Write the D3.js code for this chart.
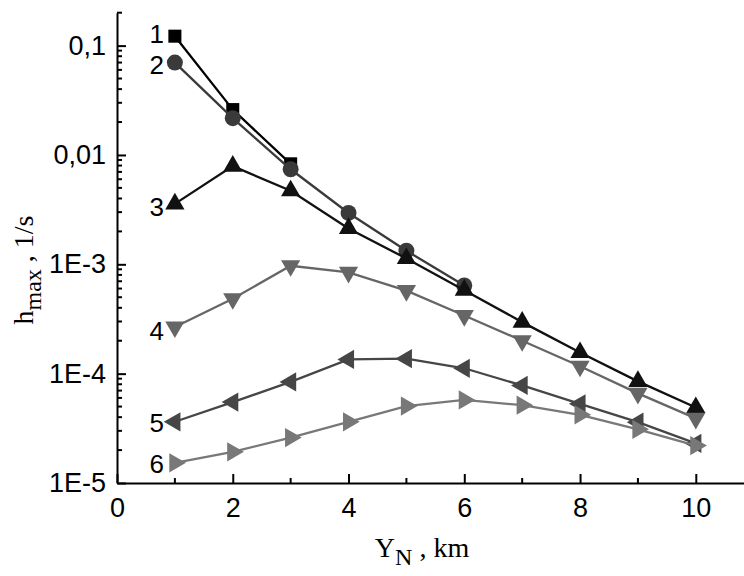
<!DOCTYPE html>
<html>
<head>
<meta charset="utf-8">
<script src="https://cdn.jsdelivr.net/npm/d3@7"></script>
<style>
  body { margin: 0; background: #fff; }
  svg { display: block; }
  .axis text { font-family: "Liberation Sans", Arial, sans-serif; font-size: 27px; fill: #000; }
  .axis path, .axis line { stroke: #000; stroke-width: 2px; }
  .title { font-family: "Liberation Serif", "Times New Roman", serif; font-size: 28px; fill: #000; }
  .num { font-family: "Liberation Sans", Arial, sans-serif; font-size: 26px; fill: #000; }
</style>
</head>
<body>
<div id="chart"></div>
<script>
// data
var xValues = [1, 2, 3, 4, 5, 6, 7, 8, 9, 10];
var series1 = [0.122, 0.026, 0.0083];
var series2 = [0.070, 0.0217, 0.0074, 0.00295, 0.00133, 0.00064];
var series3 = [0.00357, 0.0079, 0.0047, 0.00213, 0.00113, 0.00058, 0.000296, 0.000156, 0.000085, 0.000049];
var series4 = [2.67e-4, 4.84e-4, 9.7e-4, 8.45e-4, 5.75e-4, 3.4e-4, 2.0e-4, 1.17e-4, 6.6e-5, 3.9e-5];
var series5 = [3.63e-5, 5.5e-5, 8.4e-5, 1.35e-4, 1.37e-4, 1.12e-4, 7.8e-5, 5.3e-5, 3.6e-5, 2.3e-5];
var series6 = [1.53e-5, 1.93e-5, 2.6e-5, 3.63e-5, 5.05e-5, 5.75e-5, 5.15e-5, 4.2e-5, 3.1e-5, 2.2e-5];
var seriesNames = ["1", "2", "3", "4", "5", "6"];

var xTicks = [0, 2, 4, 6, 8, 10];
var xMinorTicks = [1, 3, 5, 7, 9];
var yTicks = [1e-1, 1e-2, 1e-3, 1e-4, 1e-5];
var yTickLabels = ["0,1", "0,01", "1E-3", "1E-4", "1E-5"];

var width = 744, height = 576;
var margin = {top: 12.7, right: 0, bottom: 93, left: 117};

var svg = d3.select('#chart').append('svg')
    .attr('width', width)
    .attr('height', height);

var x = d3.scaleLinear().domain([0, 10.85]).range([margin.left, 745]);
var y = d3.scaleLog().domain([1e-5, 0.2]).range([height - margin.bottom, margin.top]);

// minor ticks: 2..9 in every decade
var yMinor = [];
yTicks.forEach(function(d){
    for (var k = 2; k <= 9; k++) {
	var v = d * k;
	if (v <= 0.2 && v >= 1e-5 && yTicks.indexOf(v) < 0) yMinor.push(v);
    }
});

// x axis
var xAxis = svg.append('g')
    .attr('class', 'axis')
    .attr('transform', 'translate(0,' + y(1e-5) + ')')
    .call(d3.axisBottom(x).tickValues(xTicks).tickSize(-9).tickSizeOuter(0).tickPadding(15));
xAxis.selectAll('.minor')
    .data(xMinorTicks).enter().append('line')
    .attr('class', 'minor')
    .attr('x1', function(d){ return x(d); })
    .attr('x2', function(d){ return x(d); })
    .attr('y1', 0).attr('y2', -5);

// y axis
var yAxis = svg.append('g')
    .attr('class', 'axis')
    .attr('transform', 'translate(' + x(0) + ',0)')
    .call(d3.axisLeft(y).tickValues(yTicks).tickSize(-9).tickSizeOuter(0).tickPadding(11)
	  .tickFormat(function(d, i){ return yTickLabels[i]; }));
yAxis.selectAll('.minor')
    .data(yMinor).enter().append('line')
    .attr('class', 'minor')
    .attr('y1', function(d){ return y(d); })
    .attr('y2', function(d){ return y(d); })
    .attr('x1', 0).attr('x2', 5);

// series
var seriesList = [
    {name: seriesNames[0], values: series1, color: '#000000', symbol: d3.symbolSquare, size: 170, rot: 0, dy: -3},
    {name: seriesNames[1], values: series2, color: '#3a3a3a', symbol: d3.symbolCircle, size: 200, rot: 0, dy: 2},
    {name: seriesNames[2], values: series3, color: '#111111', symbol: d3.symbolTriangle, size: 160, rot: 0, dy: 3},
    {name: seriesNames[3], values: series4, color: '#666666', symbol: d3.symbolTriangle, size: 160, rot: 180, dy: 4},
    {name: seriesNames[4], values: series5, color: '#464646', symbol: d3.symbolTriangle, size: 160, rot: -90, dy: 1},
    {name: seriesNames[5], values: series6, color: '#787878', symbol: d3.symbolTriangle, size: 160, rot: 90, dy: 1}
];

var line = d3.line()
    .x(function(d){ return x(d.x); })
    .y(function(d){ return y(d.y); });

seriesList.forEach(function(s){
    var pts = s.values.map(function(v, i){ return {x: xValues[i], y: v}; });
    var g = svg.append('g');
    g.append('path')
	.datum(pts)
	.attr('fill', 'none')
	.attr('stroke', s.color)
	.attr('stroke-width', 2.3)
	.attr('d', line);
    g.selectAll('path.mark')
	.data(pts).enter().append('path')
	.attr('class', 'mark')
	.attr('fill', s.color)
	.attr('d', d3.symbol().type(s.symbol).size(s.size))
	.attr('transform', function(d){
	    return 'translate(' + x(d.x) + ',' + y(d.y) + ') rotate(' + s.rot + ')';
	});
    svg.append('text')
	.attr('class', 'num')
	.attr('x', x(pts[0].x) - 11)
	.attr('y', y(pts[0].y) + s.dy)
	.attr('dy', '0.36em')
	.attr('text-anchor', 'end')
	.text(s.name);
});

// axis titles
var yTitle = svg.append('text')
    .attr('class', 'title')
    .attr('transform', 'translate(33,270) rotate(-90)')
    .attr('text-anchor', 'middle');
yTitle.append('tspan').text('h');
yTitle.append('tspan').attr('dy', 8).attr('font-size', 24).text('max');
yTitle.append('tspan').attr('dy', -8).text(' , 1/s');

var xTitle = svg.append('text')
    .attr('class', 'title')
    .attr('x', 422)
    .attr('y', 557)
    .attr('text-anchor', 'middle');
xTitle.append('tspan').text('Y');
xTitle.append('tspan').attr('dy', 8).attr('font-size', 24).text('N');
xTitle.append('tspan').attr('dy', -8).text(' , km');
</script>
</body>
</html>
